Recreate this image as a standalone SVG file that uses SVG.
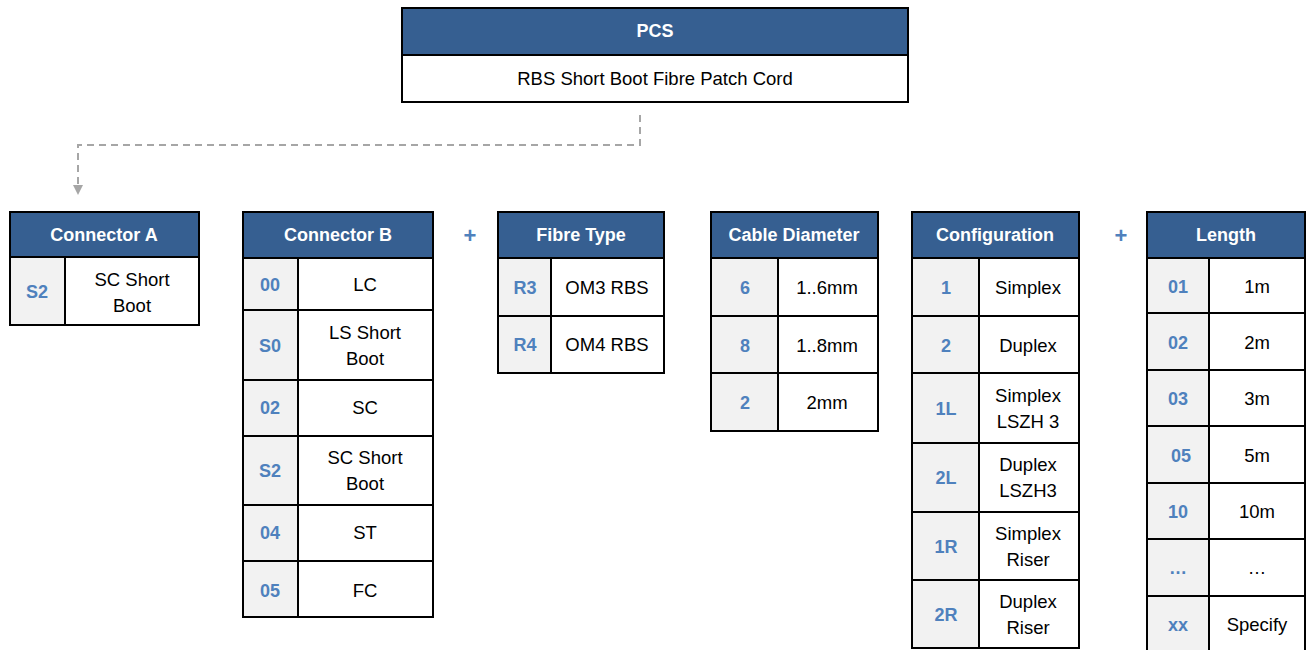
<svg xmlns="http://www.w3.org/2000/svg" width="1306" height="650" viewBox="0 0 1306 650">
<defs>
<style>
.hd{fill:#365F91;stroke:#000;stroke-width:2}
.cd{fill:#F2F2F2;stroke:#000;stroke-width:2}
.vl{fill:#FFFFFF;stroke:#000;stroke-width:2}
.ht{font-family:"Liberation Sans",Arial,sans-serif;font-size:18px;font-weight:bold;fill:#FFFFFF;text-anchor:middle}
.ct{font-family:"Liberation Sans",Arial,sans-serif;font-size:18px;font-weight:bold;fill:#4F81BD;text-anchor:middle}
.vt{font-family:"Liberation Sans",Arial,sans-serif;font-size:18.5px;fill:#000;text-anchor:middle}
.pl{font-family:"Liberation Sans",Arial,sans-serif;font-size:22px;font-weight:bold;fill:#4F81BD;text-anchor:middle}
</style>
<marker id="ah" markerWidth="10" markerHeight="10" refX="5" refY="5" orient="auto" markerUnits="userSpaceOnUse">
<path d="M0,0 L10,5 L0,10 Z" fill="#A6A6A6"/>
</marker>
</defs>
<rect width="1306" height="650" fill="#FFFFFF"/>

<g id="connectors">
<path d="M640,115 V145 H78 V190" fill="none" stroke="#A6A6A6" stroke-width="2" stroke-dasharray="7,5" marker-end="url(#ah)"/>
</g>

<g id="pcs">
<rect class="hd" x="402" y="8" width="506" height="47"/>
<rect class="vl" x="402" y="55" width="506" height="47"/>
<text class="ht" x="655" y="37">PCS</text>
<text class="vt" x="655" y="85">RBS Short Boot Fibre Patch Cord</text>
</g>

<g id="connector-a">
<rect class="hd" x="10" y="212" width="189" height="45"/>
<text class="ht" x="104" y="241">Connector A</text>
<rect class="cd" x="10" y="257" width="55" height="68"/>
<rect class="vl" x="65" y="257" width="134" height="68"/>
<text class="ct" x="37" y="298">S2</text>
<text class="vt" x="132" y="286">SC Short</text>
<text class="vt" x="132" y="312">Boot</text>
</g>

<g id="connector-b">
<rect class="hd" x="243" y="212" width="190" height="46"/>
<text class="ht" x="338" y="241">Connector B</text>
<rect class="cd" x="243" y="258" width="55" height="52"/><rect class="vl" x="298" y="258" width="135" height="52"/>
<text class="ct" x="270" y="291">00</text><text class="vt" x="365" y="291">LC</text>
<rect class="cd" x="243" y="310" width="55" height="70"/><rect class="vl" x="298" y="310" width="135" height="70"/>
<text class="ct" x="270" y="352">S0</text><text class="vt" x="365" y="339">LS Short</text><text class="vt" x="365" y="365">Boot</text>
<rect class="cd" x="243" y="380" width="55" height="56"/><rect class="vl" x="298" y="380" width="135" height="56"/>
<text class="ct" x="270" y="414">02</text><text class="vt" x="365" y="414">SC</text>
<rect class="cd" x="243" y="436" width="55" height="69"/><rect class="vl" x="298" y="436" width="135" height="69"/>
<text class="ct" x="270" y="477">S2</text><text class="vt" x="365" y="464">SC Short</text><text class="vt" x="365" y="490">Boot</text>
<rect class="cd" x="243" y="505" width="55" height="56"/><rect class="vl" x="298" y="505" width="135" height="56"/>
<text class="ct" x="270" y="539">04</text><text class="vt" x="365" y="539">ST</text>
<rect class="cd" x="243" y="561" width="55" height="56"/><rect class="vl" x="298" y="561" width="135" height="56"/>
<text class="ct" x="270" y="597">05</text><text class="vt" x="365" y="597">FC</text>
</g>

<g id="plus-1"><text class="pl" x="470" y="243">+</text></g>

<g id="fibre-type">
<rect class="hd" x="498" y="212" width="166" height="46"/>
<text class="ht" x="581" y="241">Fibre Type</text>
<rect class="cd" x="498" y="258" width="53" height="58"/><rect class="vl" x="551" y="258" width="113" height="58"/>
<text class="ct" x="525" y="294">R3</text><text class="vt" x="607" y="294">OM3 RBS</text>
<rect class="cd" x="498" y="316" width="53" height="57"/><rect class="vl" x="551" y="316" width="113" height="57"/>
<text class="ct" x="525" y="351">R4</text><text class="vt" x="607" y="351">OM4 RBS</text>
</g>

<g id="cable-diameter">
<rect class="hd" x="711" y="212" width="167" height="46"/>
<text class="ht" x="794" y="241">Cable Diameter</text>
<rect class="cd" x="711" y="258" width="67" height="58"/><rect class="vl" x="778" y="258" width="100" height="58"/>
<text class="ct" x="745" y="294">6</text><text class="vt" x="827" y="294">1..6mm</text>
<rect class="cd" x="711" y="316" width="67" height="57"/><rect class="vl" x="778" y="316" width="100" height="57"/>
<text class="ct" x="745" y="352">8</text><text class="vt" x="827" y="352">1..8mm</text>
<rect class="cd" x="711" y="373" width="67" height="58"/><rect class="vl" x="778" y="373" width="100" height="58"/>
<text class="ct" x="745" y="409">2</text><text class="vt" x="827" y="409">2mm</text>
</g>

<g id="configuration">
<rect class="hd" x="912" y="212" width="167" height="46"/>
<text class="ht" x="995" y="241">Configuration</text>
<rect class="cd" x="912" y="258" width="67" height="58"/><rect class="vl" x="979" y="258" width="100" height="58"/>
<text class="ct" x="946" y="294">1</text><text class="vt" x="1028" y="294">Simplex</text>
<rect class="cd" x="912" y="316" width="67" height="57"/><rect class="vl" x="979" y="316" width="100" height="57"/>
<text class="ct" x="946" y="352">2</text><text class="vt" x="1028" y="352">Duplex</text>
<rect class="cd" x="912" y="373" width="67" height="70"/><rect class="vl" x="979" y="373" width="100" height="70"/>
<text class="ct" x="946" y="415">1L</text><text class="vt" x="1028" y="402">Simplex</text><text class="vt" x="1028" y="428">LSZH 3</text>
<rect class="cd" x="912" y="443" width="67" height="69"/><rect class="vl" x="979" y="443" width="100" height="69"/>
<text class="ct" x="946" y="484">2L</text><text class="vt" x="1028" y="471">Duplex</text><text class="vt" x="1028" y="497">LSZH3</text>
<rect class="cd" x="912" y="512" width="67" height="68"/><rect class="vl" x="979" y="512" width="100" height="68"/>
<text class="ct" x="946" y="553">1R</text><text class="vt" x="1028" y="540">Simplex</text><text class="vt" x="1028" y="566">Riser</text>
<rect class="cd" x="912" y="580" width="67" height="68"/><rect class="vl" x="979" y="580" width="100" height="68"/>
<text class="ct" x="946" y="621">2R</text><text class="vt" x="1028" y="608">Duplex</text><text class="vt" x="1028" y="634">Riser</text>
</g>

<g id="plus-2"><text class="pl" x="1121" y="243">+</text></g>

<g id="length">
<rect class="hd" x="1147" y="212" width="158" height="46"/>
<text class="ht" x="1226" y="241">Length</text>
<rect class="cd" x="1147" y="258" width="62" height="55"/><rect class="vl" x="1209" y="258" width="96" height="55"/>
<text class="ct" x="1178" y="293">01</text><text class="vt" x="1257" y="293">1m</text>
<rect class="cd" x="1147" y="313" width="62" height="57"/><rect class="vl" x="1209" y="313" width="96" height="57"/>
<text class="ct" x="1178" y="349">02</text><text class="vt" x="1257" y="349">2m</text>
<rect class="cd" x="1147" y="370" width="62" height="56"/><rect class="vl" x="1209" y="370" width="96" height="56"/>
<text class="ct" x="1178" y="405">03</text><text class="vt" x="1257" y="405">3m</text>
<rect class="cd" x="1147" y="426" width="62" height="57"/><rect class="vl" x="1209" y="426" width="96" height="57"/>
<text class="ct" x="1181" y="462">05</text><text class="vt" x="1257" y="462">5m</text>
<rect class="cd" x="1147" y="483" width="62" height="56"/><rect class="vl" x="1209" y="483" width="96" height="56"/>
<text class="ct" x="1178" y="518">10</text><text class="vt" x="1257" y="518">10m</text>
<rect class="cd" x="1147" y="539" width="62" height="57"/><rect class="vl" x="1209" y="539" width="96" height="57"/>
<text class="ct" x="1178" y="574">…</text><text class="vt" x="1257" y="574">…</text>
<rect class="cd" x="1147" y="596" width="62" height="56"/><rect class="vl" x="1209" y="596" width="96" height="56"/>
<text class="ct" x="1178" y="631">xx</text><text class="vt" x="1257" y="631">Specify</text>
</g>
</svg>
